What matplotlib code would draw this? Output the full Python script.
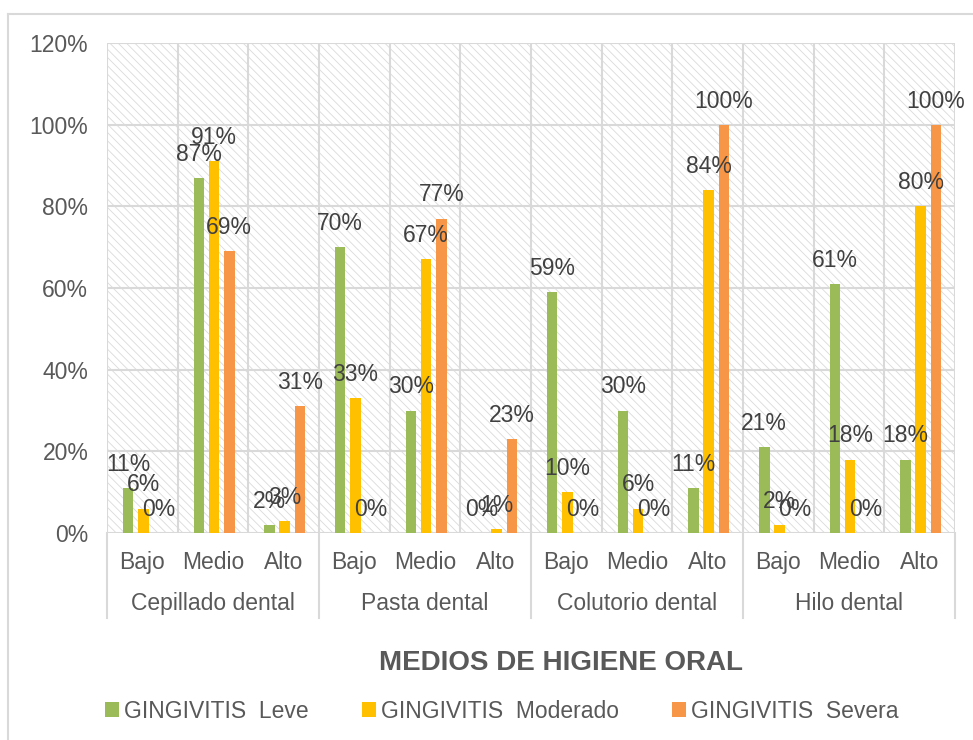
import matplotlib.pyplot as plt
from matplotlib.patches import Rectangle, Patch
from matplotlib.lines import Line2D
import numpy as np

plt.rcParams['font.family'] = ['Liberation Sans', 'DejaVu Sans']

# data
groups = ['Cepillado dental', 'Pasta dental', 'Colutorio dental', 'Hilo dental']
levels = ['Bajo', 'Medio', 'Alto']
series_names = ['GINGIVITIS  Leve', 'GINGIVITIS  Moderado', 'GINGIVITIS  Severa']
leve = [11, 87, 2, 70, 30, 0, 59, 30, 11, 21, 61, 18]
moderado = [6, 91, 3, 33, 67, 1, 10, 6, 84, 2, 18, 80]
severa = [0, 69, 31, 0, 77, 23, 0, 0, 100, 0, 0, 100]
y_ticks = [0, 20, 40, 60, 80, 100, 120]
y_labels = ['0%', '20%', '40%', '60%', '80%', '100%', '120%']
x_title = 'MEDIOS DE HIGIENE ORAL'

colors = ['#9BBB59', '#FFC000', '#F79646']
grid_c = '#d9d9d9'
text_c = '#595959'
fs = 16.5

W, H = 973, 740
fig = plt.figure(figsize=(W / 100, H / 100), dpi=100)
ax = fig.add_axes([107 / W, 1 - 533 / H, (955 - 107) / W, (533 - 43) / H])

# outer chart frame (left and top edges visible)
fig.add_artist(Line2D([8 / W, 8 / W], [0, 1 - 14 / H], color=grid_c, lw=1.5,
                      transform=fig.transFigure))
fig.add_artist(Line2D([8 / W, 1], [1 - 14 / H, 1 - 14 / H], color=grid_c, lw=1.5,
                      transform=fig.transFigure))

# hatched plot area background
plt.rcParams['hatch.linewidth'] = 0.6
ax.add_patch(Rectangle((0, 0), 1, 1, transform=ax.transAxes, fill=False,
                       hatch='\\\\\\\\', edgecolor='#dadada', lw=0, zorder=0))

n = len(leve)
x = np.arange(n)
ax.set_xlim(-0.5, n - 0.5)
ax.set_ylim(0, 120)

# grid
for yv in y_ticks:
    ax.axhline(yv, color=grid_c, lw=1.5, zorder=1)
for xv in np.arange(n + 1) - 0.5:
    ax.axvline(xv, color=grid_c, lw=1.5, zorder=1)
for s in ax.spines.values():
    s.set_visible(False)

width = 0.15
offsets = [-0.2, 0.015, 0.23]
for vals, off, c in zip([leve, moderado, severa], offsets, colors):
    ax.bar(x + off, vals, width, color=c, zorder=3)
    for xi, v in zip(x, vals):
        ax.annotate(f'{v}%', (xi + off, v), xytext=(0, 17), textcoords='offset points',
                    ha='center', va='center', fontsize=fs, color='#404040', zorder=4)

ax.set_yticks(y_ticks)
ax.set_yticklabels(y_labels, fontsize=fs, color=text_c)
ax.tick_params(axis='y', length=0, pad=13.5)
ax.set_xticks([])

# multi-level category axis
for i in range(n):
    ax.annotate(levels[i % 3], (i, 0), xycoords=('data', 'axes fraction'),
                xytext=(0, -21), textcoords='offset points', ha='center', va='center',
                fontsize=fs, color=text_c)
for g, name in enumerate(groups):
    ax.annotate(name, (g * 3 + 1, 0), xycoords=('data', 'axes fraction'),
                xytext=(0, -51), textcoords='offset points', ha='center', va='center',
                fontsize=fs, color=text_c)
for g in range(len(groups) + 1):
    ax.add_line(Line2D([g * 3 - 0.5, g * 3 - 0.5], [0, -85 / 490], color=grid_c, lw=1.5,
                       transform=ax.get_xaxis_transform(), clip_on=False))

fig.text(561 / W, 1 - 663 / H, x_title, ha='center', va='center', fontsize=20,
         fontweight='bold', color=text_c)

handles = [Patch(facecolor=c, edgecolor='none') for c in colors]
leg = fig.legend(handles, series_names, loc='center', bbox_to_anchor=(502 / W, 1 - 711 / H),
                 ncol=3, frameon=False, fontsize=fs, handlelength=0.6, handleheight=0.6,
                 handletextpad=0.25, columnspacing=2.3, borderaxespad=0, borderpad=0)
for t in leg.get_texts():
    t.set_color(text_c)

fig.savefig('out.png', dpi=100, facecolor='white')
